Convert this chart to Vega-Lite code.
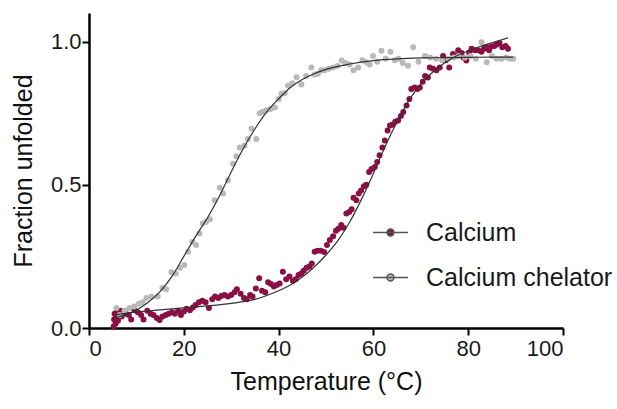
{
  "$schema": "https://vega.github.io/schema/vega-lite/v6.json",
  "autosize": "none",
  "width": 474,
  "height": 315,
  "padding": {"left": 89, "top": 13, "right": 54, "bottom": 81},
  "background": "white",
  "config": {
    "view": {"stroke": null},
    "font": "Liberation Sans",
    "axis": {
      "grid": false,
      "domainColor": "#000",
      "domainWidth": 2.5,
      "tickColor": "#000",
      "tickWidth": 2,
      "tickSize": 7,
      "labelFont": "Liberation Sans",
      "labelFontSize": 22,
      "labelColor": "#1a1a1a",
      "titleFont": "Liberation Sans",
      "titleFontSize": 25,
      "titleFontWeight": "normal",
      "titleColor": "#111"
    }
  },
  "datasets": {
    "points": [
      {"series": "Calcium", "temp": 5.2, "frac": 0.005},
      {"series": "Calcium", "temp": 5.3, "frac": 0.03},
      {"series": "Calcium", "temp": 5.4, "frac": 0.05},
      {"series": "Calcium", "temp": 5.6, "frac": 0.015},
      {"series": "Calcium", "temp": 5.7, "frac": 0.04},
      {"series": "Calcium", "temp": 5.9, "frac": 0.06},
      {"series": "Calcium", "temp": 6.1, "frac": 0.025},
      {"series": "Calcium", "temp": 6.3, "frac": 0.045},
      {"series": "Calcium", "temp": 6.6, "frac": 0.06},
      {"series": "Calcium", "temp": 6.9, "frac": 0.04},
      {"series": "Calcium", "temp": 7.3, "frac": 0.055},
      {"series": "Calcium", "temp": 7.8, "frac": 0.05},
      {"series": "Calcium", "temp": 8.4, "frac": 0.045},
      {"series": "Calcium", "temp": 8.9, "frac": 0.03},
      {"series": "Calcium", "temp": 9.6, "frac": 0.062},
      {"series": "Calcium", "temp": 10.3, "frac": 0.055},
      {"series": "Calcium", "temp": 11.0, "frac": 0.045},
      {"series": "Calcium", "temp": 11.5, "frac": 0.03},
      {"series": "Calcium", "temp": 12.3, "frac": 0.06},
      {"series": "Calcium", "temp": 13.0, "frac": 0.05},
      {"series": "Calcium", "temp": 13.6, "frac": 0.045},
      {"series": "Calcium", "temp": 14.3, "frac": 0.035},
      {"series": "Calcium", "temp": 14.9, "frac": 0.028},
      {"series": "Calcium", "temp": 15.5, "frac": 0.04},
      {"series": "Calcium", "temp": 16.2, "frac": 0.045},
      {"series": "Calcium", "temp": 16.8, "frac": 0.05},
      {"series": "Calcium", "temp": 17.5, "frac": 0.055},
      {"series": "Calcium", "temp": 18.1, "frac": 0.05},
      {"series": "Calcium", "temp": 18.8, "frac": 0.06},
      {"series": "Calcium", "temp": 19.4, "frac": 0.045},
      {"series": "Calcium", "temp": 20.0, "frac": 0.058},
      {"series": "Calcium", "temp": 20.6, "frac": 0.067},
      {"series": "Calcium", "temp": 21.3, "frac": 0.062},
      {"series": "Calcium", "temp": 21.9, "frac": 0.072},
      {"series": "Calcium", "temp": 22.5, "frac": 0.08},
      {"series": "Calcium", "temp": 23.2, "frac": 0.09},
      {"series": "Calcium", "temp": 23.9, "frac": 0.095},
      {"series": "Calcium", "temp": 24.6, "frac": 0.09},
      {"series": "Calcium", "temp": 25.3, "frac": 0.07},
      {"series": "Calcium", "temp": 26.0, "frac": 0.1},
      {"series": "Calcium", "temp": 26.6, "frac": 0.11},
      {"series": "Calcium", "temp": 27.3, "frac": 0.105},
      {"series": "Calcium", "temp": 27.9, "frac": 0.112},
      {"series": "Calcium", "temp": 28.6, "frac": 0.115},
      {"series": "Calcium", "temp": 29.3, "frac": 0.11},
      {"series": "Calcium", "temp": 30.0, "frac": 0.115},
      {"series": "Calcium", "temp": 30.7, "frac": 0.125},
      {"series": "Calcium", "temp": 31.2, "frac": 0.135},
      {"series": "Calcium", "temp": 32.0, "frac": 0.12},
      {"series": "Calcium", "temp": 32.7, "frac": 0.105},
      {"series": "Calcium", "temp": 33.3, "frac": 0.1},
      {"series": "Calcium", "temp": 34.0, "frac": 0.115},
      {"series": "Calcium", "temp": 34.5, "frac": 0.11},
      {"series": "Calcium", "temp": 35.2, "frac": 0.138},
      {"series": "Calcium", "temp": 35.9, "frac": 0.174},
      {"series": "Calcium", "temp": 36.5, "frac": 0.13},
      {"series": "Calcium", "temp": 37.2, "frac": 0.125},
      {"series": "Calcium", "temp": 37.8, "frac": 0.16},
      {"series": "Calcium", "temp": 38.4, "frac": 0.154},
      {"series": "Calcium", "temp": 39.0, "frac": 0.145},
      {"series": "Calcium", "temp": 39.6, "frac": 0.15},
      {"series": "Calcium", "temp": 40.2, "frac": 0.155},
      {"series": "Calcium", "temp": 40.9, "frac": 0.196},
      {"series": "Calcium", "temp": 41.6, "frac": 0.17},
      {"series": "Calcium", "temp": 42.3, "frac": 0.18},
      {"series": "Calcium", "temp": 43.0, "frac": 0.165},
      {"series": "Calcium", "temp": 43.6, "frac": 0.17},
      {"series": "Calcium", "temp": 44.2, "frac": 0.185},
      {"series": "Calcium", "temp": 44.8, "frac": 0.19},
      {"series": "Calcium", "temp": 45.3, "frac": 0.2},
      {"series": "Calcium", "temp": 45.9, "frac": 0.21},
      {"series": "Calcium", "temp": 46.5, "frac": 0.215},
      {"series": "Calcium", "temp": 47.0, "frac": 0.225},
      {"series": "Calcium", "temp": 47.6, "frac": 0.266},
      {"series": "Calcium", "temp": 48.2, "frac": 0.27},
      {"series": "Calcium", "temp": 48.9, "frac": 0.27},
      {"series": "Calcium", "temp": 49.6, "frac": 0.265},
      {"series": "Calcium", "temp": 50.2, "frac": 0.29},
      {"series": "Calcium", "temp": 50.8, "frac": 0.307},
      {"series": "Calcium", "temp": 51.5, "frac": 0.32},
      {"series": "Calcium", "temp": 52.1, "frac": 0.34},
      {"series": "Calcium", "temp": 52.6, "frac": 0.347},
      {"series": "Calcium", "temp": 53.2, "frac": 0.36},
      {"series": "Calcium", "temp": 53.7, "frac": 0.35},
      {"series": "Calcium", "temp": 54.3, "frac": 0.4},
      {"series": "Calcium", "temp": 54.9, "frac": 0.405},
      {"series": "Calcium", "temp": 55.4, "frac": 0.415},
      {"series": "Calcium", "temp": 55.8, "frac": 0.455},
      {"series": "Calcium", "temp": 56.4, "frac": 0.446},
      {"series": "Calcium", "temp": 56.9, "frac": 0.47},
      {"series": "Calcium", "temp": 57.4, "frac": 0.48},
      {"series": "Calcium", "temp": 58.0, "frac": 0.495},
      {"series": "Calcium", "temp": 58.5, "frac": 0.5},
      {"series": "Calcium", "temp": 59.1, "frac": 0.545},
      {"series": "Calcium", "temp": 59.6, "frac": 0.555},
      {"series": "Calcium", "temp": 60.3, "frac": 0.562},
      {"series": "Calcium", "temp": 60.8, "frac": 0.58},
      {"series": "Calcium", "temp": 61.3, "frac": 0.603},
      {"series": "Calcium", "temp": 61.9, "frac": 0.63},
      {"series": "Calcium", "temp": 62.4, "frac": 0.655},
      {"series": "Calcium", "temp": 63.0, "frac": 0.69},
      {"series": "Calcium", "temp": 63.5, "frac": 0.707},
      {"series": "Calcium", "temp": 64.0, "frac": 0.71},
      {"series": "Calcium", "temp": 64.6, "frac": 0.72},
      {"series": "Calcium", "temp": 65.2, "frac": 0.725},
      {"series": "Calcium", "temp": 65.8, "frac": 0.74},
      {"series": "Calcium", "temp": 66.3, "frac": 0.754},
      {"series": "Calcium", "temp": 67.0, "frac": 0.777},
      {"series": "Calcium", "temp": 67.6, "frac": 0.8},
      {"series": "Calcium", "temp": 68.0, "frac": 0.835},
      {"series": "Calcium", "temp": 68.7, "frac": 0.84},
      {"series": "Calcium", "temp": 69.3, "frac": 0.835},
      {"series": "Calcium", "temp": 69.8, "frac": 0.84},
      {"series": "Calcium", "temp": 70.4, "frac": 0.86},
      {"series": "Calcium", "temp": 70.9, "frac": 0.88},
      {"series": "Calcium", "temp": 71.5, "frac": 0.875},
      {"series": "Calcium", "temp": 71.9, "frac": 0.91},
      {"series": "Calcium", "temp": 72.6, "frac": 0.905},
      {"series": "Calcium", "temp": 73.3, "frac": 0.9},
      {"series": "Calcium", "temp": 74.0, "frac": 0.91},
      {"series": "Calcium", "temp": 74.7, "frac": 0.95},
      {"series": "Calcium", "temp": 75.3, "frac": 0.935},
      {"series": "Calcium", "temp": 76.0, "frac": 0.91},
      {"series": "Calcium", "temp": 76.8, "frac": 0.957},
      {"series": "Calcium", "temp": 77.4, "frac": 0.95},
      {"series": "Calcium", "temp": 77.9, "frac": 0.97},
      {"series": "Calcium", "temp": 78.6, "frac": 0.96},
      {"series": "Calcium", "temp": 79.0, "frac": 0.945},
      {"series": "Calcium", "temp": 79.6, "frac": 0.934},
      {"series": "Calcium", "temp": 80.2, "frac": 0.962},
      {"series": "Calcium", "temp": 80.7, "frac": 0.975},
      {"series": "Calcium", "temp": 81.4, "frac": 0.97},
      {"series": "Calcium", "temp": 82.1, "frac": 0.97},
      {"series": "Calcium", "temp": 82.8, "frac": 0.965},
      {"series": "Calcium", "temp": 83.3, "frac": 0.975},
      {"series": "Calcium", "temp": 83.9, "frac": 0.98},
      {"series": "Calcium", "temp": 84.4, "frac": 0.97},
      {"series": "Calcium", "temp": 84.9, "frac": 0.983},
      {"series": "Calcium", "temp": 85.5, "frac": 0.985},
      {"series": "Calcium", "temp": 86.0, "frac": 0.99},
      {"series": "Calcium", "temp": 86.6, "frac": 0.995},
      {"series": "Calcium", "temp": 87.2, "frac": 0.98},
      {"series": "Calcium", "temp": 87.9, "frac": 0.985},
      {"series": "Calcium", "temp": 88.4, "frac": 0.975},
      {"series": "Calcium chelator", "temp": 5.8, "frac": 0.07},
      {"series": "Calcium chelator", "temp": 6.5, "frac": 0.045},
      {"series": "Calcium chelator", "temp": 7.5, "frac": 0.06},
      {"series": "Calcium chelator", "temp": 8.5, "frac": 0.07},
      {"series": "Calcium chelator", "temp": 9.5, "frac": 0.075},
      {"series": "Calcium chelator", "temp": 10.5, "frac": 0.085},
      {"series": "Calcium chelator", "temp": 11.3, "frac": 0.09},
      {"series": "Calcium chelator", "temp": 12.1, "frac": 0.105},
      {"series": "Calcium chelator", "temp": 13.2, "frac": 0.11},
      {"series": "Calcium chelator", "temp": 14.5, "frac": 0.11},
      {"series": "Calcium chelator", "temp": 15.5, "frac": 0.14},
      {"series": "Calcium chelator", "temp": 16.3, "frac": 0.135},
      {"series": "Calcium chelator", "temp": 17.4, "frac": 0.195},
      {"series": "Calcium chelator", "temp": 18.3, "frac": 0.19},
      {"series": "Calcium chelator", "temp": 19.2, "frac": 0.21},
      {"series": "Calcium chelator", "temp": 20.1, "frac": 0.22},
      {"series": "Calcium chelator", "temp": 20.9, "frac": 0.266},
      {"series": "Calcium chelator", "temp": 21.8, "frac": 0.3},
      {"series": "Calcium chelator", "temp": 22.6, "frac": 0.29},
      {"series": "Calcium chelator", "temp": 23.3, "frac": 0.33},
      {"series": "Calcium chelator", "temp": 24.0, "frac": 0.365},
      {"series": "Calcium chelator", "temp": 24.7, "frac": 0.37},
      {"series": "Calcium chelator", "temp": 25.5, "frac": 0.38},
      {"series": "Calcium chelator", "temp": 26.5, "frac": 0.446},
      {"series": "Calcium chelator", "temp": 27.6, "frac": 0.49},
      {"series": "Calcium chelator", "temp": 28.3, "frac": 0.47},
      {"series": "Calcium chelator", "temp": 29.3, "frac": 0.516},
      {"series": "Calcium chelator", "temp": 30.4, "frac": 0.574},
      {"series": "Calcium chelator", "temp": 31.1, "frac": 0.6},
      {"series": "Calcium chelator", "temp": 31.8, "frac": 0.63},
      {"series": "Calcium chelator", "temp": 32.8, "frac": 0.636},
      {"series": "Calcium chelator", "temp": 33.5, "frac": 0.66},
      {"series": "Calcium chelator", "temp": 34.3, "frac": 0.696},
      {"series": "Calcium chelator", "temp": 35.3, "frac": 0.66},
      {"series": "Calcium chelator", "temp": 36.0, "frac": 0.75},
      {"series": "Calcium chelator", "temp": 36.6, "frac": 0.754},
      {"series": "Calcium chelator", "temp": 37.4, "frac": 0.76},
      {"series": "Calcium chelator", "temp": 38.3, "frac": 0.765},
      {"series": "Calcium chelator", "temp": 39.2, "frac": 0.77},
      {"series": "Calcium chelator", "temp": 40.0, "frac": 0.8},
      {"series": "Calcium chelator", "temp": 40.6, "frac": 0.818},
      {"series": "Calcium chelator", "temp": 41.3, "frac": 0.82},
      {"series": "Calcium chelator", "temp": 42.0, "frac": 0.847},
      {"series": "Calcium chelator", "temp": 42.9, "frac": 0.855},
      {"series": "Calcium chelator", "temp": 43.8, "frac": 0.876},
      {"series": "Calcium chelator", "temp": 44.8, "frac": 0.85},
      {"series": "Calcium chelator", "temp": 45.8, "frac": 0.88},
      {"series": "Calcium chelator", "temp": 46.9, "frac": 0.91},
      {"series": "Calcium chelator", "temp": 47.6, "frac": 0.885},
      {"series": "Calcium chelator", "temp": 48.3, "frac": 0.888},
      {"series": "Calcium chelator", "temp": 49.0, "frac": 0.9},
      {"series": "Calcium chelator", "temp": 49.7, "frac": 0.9},
      {"series": "Calcium chelator", "temp": 50.6, "frac": 0.905},
      {"series": "Calcium chelator", "temp": 51.5, "frac": 0.91},
      {"series": "Calcium chelator", "temp": 52.4, "frac": 0.915},
      {"series": "Calcium chelator", "temp": 53.3, "frac": 0.934},
      {"series": "Calcium chelator", "temp": 54.1, "frac": 0.925},
      {"series": "Calcium chelator", "temp": 55.0, "frac": 0.92},
      {"series": "Calcium chelator", "temp": 55.8, "frac": 0.9},
      {"series": "Calcium chelator", "temp": 56.8, "frac": 0.91},
      {"series": "Calcium chelator", "temp": 57.7, "frac": 0.935},
      {"series": "Calcium chelator", "temp": 58.5, "frac": 0.928},
      {"series": "Calcium chelator", "temp": 59.2, "frac": 0.92},
      {"series": "Calcium chelator", "temp": 59.9, "frac": 0.95},
      {"series": "Calcium chelator", "temp": 60.8, "frac": 0.93},
      {"series": "Calcium chelator", "temp": 61.7, "frac": 0.968},
      {"series": "Calcium chelator", "temp": 62.6, "frac": 0.94},
      {"series": "Calcium chelator", "temp": 63.6, "frac": 0.965},
      {"series": "Calcium chelator", "temp": 64.5, "frac": 0.935},
      {"series": "Calcium chelator", "temp": 65.3, "frac": 0.94},
      {"series": "Calcium chelator", "temp": 66.2, "frac": 0.925},
      {"series": "Calcium chelator", "temp": 67.3, "frac": 0.916},
      {"series": "Calcium chelator", "temp": 68.4, "frac": 0.98},
      {"series": "Calcium chelator", "temp": 69.5, "frac": 0.93},
      {"series": "Calcium chelator", "temp": 70.9, "frac": 0.95},
      {"series": "Calcium chelator", "temp": 72.0, "frac": 0.945},
      {"series": "Calcium chelator", "temp": 73.2, "frac": 0.94},
      {"series": "Calcium chelator", "temp": 74.5, "frac": 0.935},
      {"series": "Calcium chelator", "temp": 75.8, "frac": 0.94},
      {"series": "Calcium chelator", "temp": 77.0, "frac": 0.945},
      {"series": "Calcium chelator", "temp": 78.0, "frac": 0.95},
      {"series": "Calcium chelator", "temp": 79.3, "frac": 0.945},
      {"series": "Calcium chelator", "temp": 80.5, "frac": 0.95},
      {"series": "Calcium chelator", "temp": 81.6, "frac": 0.94},
      {"series": "Calcium chelator", "temp": 82.8, "frac": 0.998},
      {"series": "Calcium chelator", "temp": 83.9, "frac": 0.928},
      {"series": "Calcium chelator", "temp": 85.0, "frac": 0.95},
      {"series": "Calcium chelator", "temp": 86.0, "frac": 0.94},
      {"series": "Calcium chelator", "temp": 87.0, "frac": 0.94},
      {"series": "Calcium chelator", "temp": 88.0, "frac": 0.945},
      {"series": "Calcium chelator", "temp": 88.8, "frac": 0.94},
      {"series": "Calcium chelator", "temp": 89.5, "frac": 0.94}
    ],
    "fit": [
      {"series": "Calcium", "temp": 5.5, "frac": 0.045},
      {"series": "Calcium", "temp": 10, "frac": 0.056},
      {"series": "Calcium", "temp": 15, "frac": 0.063},
      {"series": "Calcium", "temp": 20, "frac": 0.07},
      {"series": "Calcium", "temp": 25, "frac": 0.077},
      {"series": "Calcium", "temp": 30, "frac": 0.086},
      {"series": "Calcium", "temp": 35, "frac": 0.1},
      {"series": "Calcium", "temp": 40, "frac": 0.13},
      {"series": "Calcium", "temp": 42.5, "frac": 0.15},
      {"series": "Calcium", "temp": 45, "frac": 0.178},
      {"series": "Calcium", "temp": 47.5, "frac": 0.213},
      {"series": "Calcium", "temp": 50, "frac": 0.255},
      {"series": "Calcium", "temp": 52.5, "frac": 0.305},
      {"series": "Calcium", "temp": 55, "frac": 0.37},
      {"series": "Calcium", "temp": 57.5, "frac": 0.45},
      {"series": "Calcium", "temp": 60, "frac": 0.54},
      {"series": "Calcium", "temp": 62.5, "frac": 0.635},
      {"series": "Calcium", "temp": 65, "frac": 0.72},
      {"series": "Calcium", "temp": 67.5, "frac": 0.795},
      {"series": "Calcium", "temp": 70, "frac": 0.852},
      {"series": "Calcium", "temp": 72.5, "frac": 0.893},
      {"series": "Calcium", "temp": 75, "frac": 0.925},
      {"series": "Calcium", "temp": 77.5, "frac": 0.95},
      {"series": "Calcium", "temp": 80, "frac": 0.968},
      {"series": "Calcium", "temp": 82.5, "frac": 0.983},
      {"series": "Calcium", "temp": 85, "frac": 0.996},
      {"series": "Calcium", "temp": 88.4, "frac": 1.013},
      {"series": "Calcium chelator", "temp": 5.5, "frac": 0.035},
      {"series": "Calcium chelator", "temp": 7.5, "frac": 0.045},
      {"series": "Calcium chelator", "temp": 10, "frac": 0.063},
      {"series": "Calcium chelator", "temp": 12.5, "frac": 0.09},
      {"series": "Calcium chelator", "temp": 15, "frac": 0.127},
      {"series": "Calcium chelator", "temp": 17.5, "frac": 0.18},
      {"series": "Calcium chelator", "temp": 20, "frac": 0.25},
      {"series": "Calcium chelator", "temp": 22.5, "frac": 0.32},
      {"series": "Calcium chelator", "temp": 25, "frac": 0.385},
      {"series": "Calcium chelator", "temp": 27.5, "frac": 0.46},
      {"series": "Calcium chelator", "temp": 30, "frac": 0.545},
      {"series": "Calcium chelator", "temp": 32.5, "frac": 0.625},
      {"series": "Calcium chelator", "temp": 35, "frac": 0.695},
      {"series": "Calcium chelator", "temp": 37.5, "frac": 0.755},
      {"series": "Calcium chelator", "temp": 40, "frac": 0.8},
      {"series": "Calcium chelator", "temp": 42.5, "frac": 0.84},
      {"series": "Calcium chelator", "temp": 45, "frac": 0.868},
      {"series": "Calcium chelator", "temp": 47.5, "frac": 0.888},
      {"series": "Calcium chelator", "temp": 50, "frac": 0.903},
      {"series": "Calcium chelator", "temp": 55, "frac": 0.922},
      {"series": "Calcium chelator", "temp": 60, "frac": 0.934},
      {"series": "Calcium chelator", "temp": 65, "frac": 0.94},
      {"series": "Calcium chelator", "temp": 70, "frac": 0.943},
      {"series": "Calcium chelator", "temp": 75, "frac": 0.944},
      {"series": "Calcium chelator", "temp": 80, "frac": 0.945},
      {"series": "Calcium chelator", "temp": 85, "frac": 0.946},
      {"series": "Calcium chelator", "temp": 89.5, "frac": 0.946}
    ]
  },
  "layer": [
    {
      "data": {"name": "points"},
      "mark": {"type": "circle", "size": 36, "opacity": 1},
      "encoding": {
        "x": {
          "field": "temp", "type": "quantitative",
          "scale": {"domain": [0, 100], "nice": false, "zero": false},
          "axis": {"values": [0, 20, 40, 60, 80, 100], "title": "Temperature (°C)", "labelPadding": 3, "titlePadding": 10}
        },
        "y": {
          "field": "frac", "type": "quantitative",
          "scale": {"domain": [0, 1.1], "nice": false},
          "axis": {"values": [0, 0.5, 1.0], "format": ".1f", "title": "Fraction unfolded", "labelPadding": 1, "titlePadding": 14}
        },
        "color": {
          "field": "series", "type": "nominal",
          "scale": {"domain": ["Calcium", "Calcium chelator"], "range": ["#8a0f45", "#b9b9b9"]},
          "legend": {
            "title": null,
            "orient": "none",
            "legendX": 283,
            "legendY": 201,
            "padding": 0,
            "symbolType": "M-1,0H1M-0.2,0A0.2,0.2 0 1,1 0.2,0A0.2,0.2 0 1,1 -0.2,0Z",
            "symbolSize": 1225,
            "symbolStrokeColor": "#555",
            "symbolStrokeWidth": 1.4,
            "symbolOpacity": 1,
            "labelFont": "Liberation Sans",
            "labelFontSize": 25,
            "labelColor": "#1a1a1a",
            "labelOffset": 17,
            "labelLimit": 400,
            "rowPadding": 13
          }
        }
      }
    },
    {
      "data": {"name": "fit"},
      "mark": {"type": "line", "color": "#333", "strokeWidth": 1.2, "interpolate": "monotone"},
      "encoding": {
        "x": {"field": "temp", "type": "quantitative"},
        "y": {"field": "frac", "type": "quantitative"},
        "detail": {"field": "series", "type": "nominal"}
      }
    }
  ]
}
